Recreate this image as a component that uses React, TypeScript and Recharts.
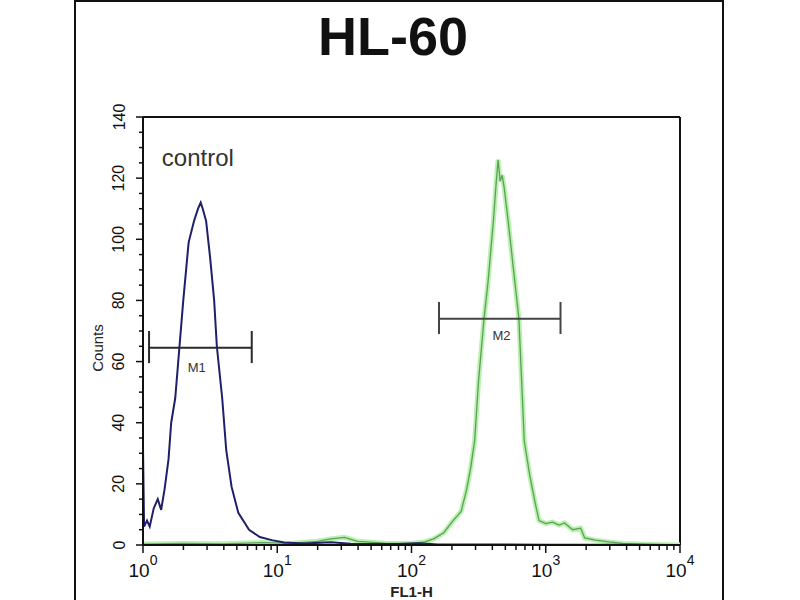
import {
  ComposedChart,
  Line,
  XAxis,
  YAxis,
  ReferenceLine,
  ReferenceDot,
  Label,
} from "recharts";

// x values are log10(FL1-H), i.e. decades 0..4
const controlX = [
  0, 0.008, 0.03, 0.05, 0.08, 0.11, 0.135, 0.16, 0.19, 0.21, 0.24, 0.27, 0.3,
  0.34, 0.38, 0.41, 0.43, 0.445, 0.47, 0.5, 0.53, 0.55, 0.59, 0.62, 0.66, 0.71,
  0.79, 0.87, 0.96, 1.05, 1.2, 1.4, 1.55, 1.7, 1.9, 2.05, 2.2, 2.5, 3.0, 3.5, 4.0,
];
const controlCounts = [
  32, 6, 8, 6, 12, 15, 11.5, 18, 28, 40, 48, 64, 80, 99, 106, 110, 112, 110,
  106, 94, 80, 65, 48, 31, 19, 10.5, 5, 2.6, 1.6, 0.8, 0.5, 0.9, 0.4, 0.3, 0.3,
  0.6, 0.2, 0.2, 0.1, 0.1, 0,
];

const stainX = [
  0, 0.3, 0.6, 0.9, 1.1, 1.3, 1.4, 1.5, 1.6, 1.8, 2.0, 2.1, 2.165, 2.24, 2.31,
  2.37, 2.41, 2.44, 2.47, 2.5, 2.54, 2.57, 2.61, 2.63, 2.645, 2.66, 2.675, 2.69,
  2.72, 2.77, 2.8, 2.82, 2.84, 2.88, 2.92, 2.95, 3.0, 3.05, 3.1, 3.14, 3.2,
  3.26, 3.29, 3.37, 3.47, 3.57, 3.8, 4.0,
];
const stainCounts = [
  0.3, 0.5, 0.4, 0.8, 0.5, 1.2, 2, 2.5, 1.2, 0.6, 0.5, 1, 2, 4, 8, 11, 18, 25,
  34, 54, 74, 86, 106, 118, 126, 119, 121, 117, 106, 86, 74, 54, 34, 23, 14, 8,
  7, 7.5, 6.5, 7.2, 5, 5.5, 2.3, 1.6, 1, 0.5, 0.2, 0,
];

const decades = [0, 1, 2, 3, 4];
const minorSteps = [2, 3, 4, 5, 6, 7, 8, 9];
const xTicks = decades.flatMap((d) =>
  d < 4 ? [d, ...minorSteps.map((m) => d + Math.log10(m))] : [d]
);
const yTicks = Array.from({ length: 29 }, (_, i) => i * 5);

// marker gates: [from, to, height] in decades / counts
const m1 = [0.045, 0.81, 64.5];
const m2 = [2.205, 3.11, 74];

const controlData = controlX.map((x, i) => ({ x, y: controlCounts[i] }));
const stainData = stainX.map((x, i) => ({ x, y: stainCounts[i] }));

const font = "'Liberation Sans', Arial, Helvetica, sans-serif";

const XTick = ({ x, y, payload }: any) => {
  const v = payload.value;
  const major = Math.abs(v - Math.round(v)) < 1e-9;
  return (
    <g>
      <line x1={x} x2={x} y1={y} y2={y + (major ? 8 : 5)} stroke="#111" strokeWidth={1.5} />
      {major && (
        <text x={x} y={y + 32} textAnchor="middle" fontSize={19} fill="#111" fontFamily={font}>
          10
          <tspan dy={-12} fontSize={14}>
            {Math.round(v)}
          </tspan>
        </text>
      )}
    </g>
  );
};

const YTick = ({ x, y, payload }: any) => {
  const major = payload.value % 20 === 0;
  return (
    <g>
      <line x1={x - (major ? 7 : 4)} x2={x} y1={y} y2={y} stroke="#111" strokeWidth={1.5} />
      {major && (
        <text
          x={x - 24}
          y={y}
          transform={`rotate(-90 ${x - 24} ${y})`}
          textAnchor="middle"
          dominantBaseline="central"
          fontSize={16}
          fill="#111"
          fontFamily={font}
        >
          {payload.value}
        </text>
      )}
    </g>
  );
};

const gateLines = (g: number[], color: string) => [
  <ReferenceLine
    key="h"
    segment={[{ x: g[0], y: g[2] }, { x: g[1], y: g[2] }]}
    stroke={color}
    strokeWidth={2}
  />,
  <ReferenceLine
    key="l"
    segment={[{ x: g[0], y: g[2] - 5 }, { x: g[0], y: g[2] + 5.5 }]}
    stroke={color}
    strokeWidth={2}
  />,
  <ReferenceLine
    key="r"
    segment={[{ x: g[1], y: g[2] - 5 }, { x: g[1], y: g[2] + 5.5 }]}
    stroke={color}
    strokeWidth={2}
  />,
];

const textShape = (txt: string, size: number, anchor: string) => (p: any) => (
  <text x={p.cx} y={p.cy} fontSize={size} fill="#333" textAnchor={anchor} fontFamily={font}>
    {txt}
  </text>
);

export default function App() {
  return (
    <div style={{ position: "absolute", left: 0, top: 0, width: 800, height: 600, overflow: "hidden", background: "#fff" }}>
      <div
        style={{
          position: "absolute",
          left: 74,
          top: 0,
          width: 646,
          height: 640,
          border: "2px solid #111",
        }}
      />
      <div
        style={{
          position: "absolute",
          left: 0,
          top: 5,
          width: 786,
          textAlign: "center",
          fontFamily: font,
          fontWeight: "bold",
          fontSize: 54,
          color: "#111",
        }}
      >
        HL-60
      </div>
      <div style={{ position: "absolute", left: 0, top: 0 }}>
        <ComposedChart width={800} height={600} margin={{ top: 117, right: 120, bottom: 0, left: 83 }}>
          <XAxis
            type="number"
            dataKey="x"
            domain={[0, 4]}
            ticks={xTicks}
            interval={0}
            allowDataOverflow
            height={55}
            tickSize={0}
            tickMargin={0}
            tick={<XTick />}
            axisLine={{ stroke: "#111", strokeWidth: 2 }}
            tickLine={false}
          >
            <Label
              value="FL1-H"
              position="insideBottom"
              offset={3}
              style={{ fontSize: 15, fontWeight: "bold", fill: "#222", fontFamily: font }}
            />
          </XAxis>
          <YAxis
            type="number"
            domain={[0, 140]}
            ticks={yTicks}
            interval={0}
            allowDataOverflow
            width={60}
            tickSize={0}
            tickMargin={0}
            tick={<YTick />}
            axisLine={{ stroke: "#111", strokeWidth: 2 }}
            tickLine={false}
          >
            <Label
              content={({ viewBox }: any) => (
                <text
                  x={viewBox.x + 14}
                  y={viewBox.y + viewBox.height / 2 + 17}
                  transform={`rotate(-90 ${viewBox.x + 14} ${viewBox.y + viewBox.height / 2 + 17})`}
                  textAnchor="middle"
                  dominantBaseline="central"
                  fontSize={15}
                  fill="#222"
                  fontFamily={font}
                >
                  Counts
                </text>
              )}
            />
          </YAxis>
          <ReferenceLine y={140} stroke="#111" strokeWidth={2} />
          <ReferenceLine x={4} stroke="#111" strokeWidth={2} />
          <Line
            data={stainData}
            dataKey="y"
            type="linear"
            stroke="#b8f2ac"
            strokeWidth={5}
            dot={false}
            isAnimationActive={false}
          />
          <Line
            data={stainData}
            dataKey="y"
            type="linear"
            stroke="#5e9e5e"
            strokeWidth={1.3}
            dot={false}
            isAnimationActive={false}
          />
          <Line
            data={controlData}
            dataKey="y"
            type="linear"
            stroke="#1f1f6a"
            strokeWidth={2}
            dot={false}
            isAnimationActive={false}
          />
          {gateLines(m1, "#2a2a2a")}
          {gateLines(m2, "#444")}
          <ReferenceDot x={0.4} y={56.5} r={0} shape={textShape("M1", 13, "middle")} />
          <ReferenceDot x={2.67} y={67} r={0} shape={textShape("M2", 13, "middle")} />
          <ReferenceDot x={0.14} y={124} r={0} shape={textShape("control", 24, "start")} />
        </ComposedChart>
      </div>
    </div>
  );
}
